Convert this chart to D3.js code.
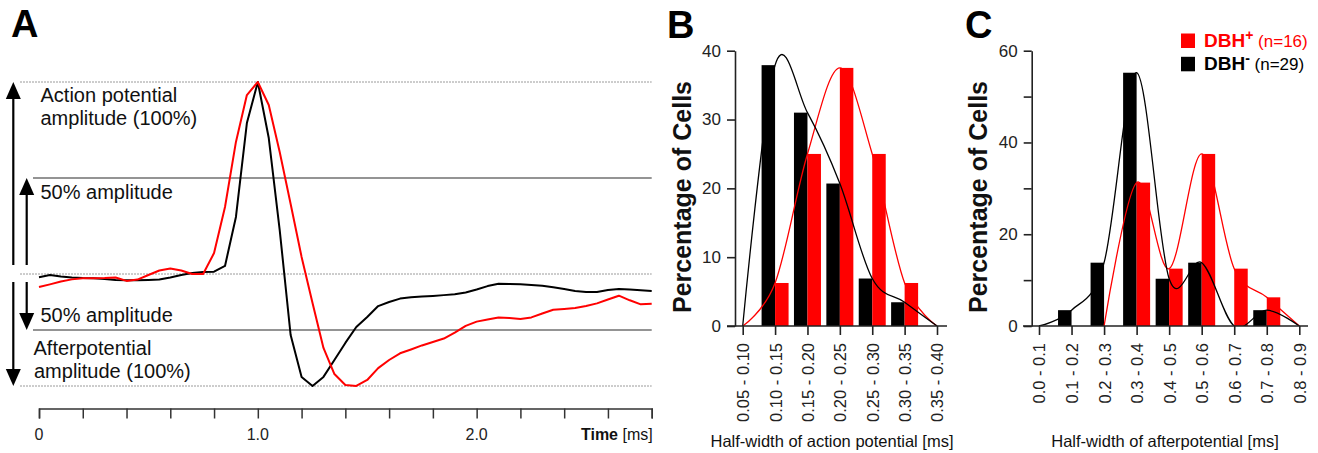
<!DOCTYPE html>
<html>
<head>
<meta charset="utf-8">
<script src="https://cdn.jsdelivr.net/npm/d3@7"></script>
<style>
  body { margin: 0; background: #fff; }
  svg { display: block; font-family: "Liberation Sans", Arial, sans-serif; }
</style>
</head>
<body>
<svg id="chart" width="1318" height="453"></svg>
<script>
// ---- data ----
// averaged spikes, sampled every 0.05 ms, in % of action potential amplitude
var sampleStep = 0.05;
var dbhPosTrace = [-6.8,-5.4,-3.9,-2.8,-2.2,-2.2,-2.1,-1.8,-3.6,-2.9,-0.5,1.8,2.9,1.8,0,0,
  10.9,34.9,68.8,93.2,100,88.0,63.5,36.5,8.9,-15.1,-38.5,-52.1,-57.8,-58.3,-55.2,
  -49.0,-44.8,-41.3,-39.3,-37.2,-35.4,-33.6,-30.5,-27.0,-24.8,-23.7,-22.6,-22.9,-23.4,-22.6,
  -20.6,-18.6,-18.2,-17.7,-16.7,-15.3,-13.3,-11.3,-13.7,-15.8,-15.5];
var dbhNegTrace = [-1.7,-0.5,-1.3,-1.8,-2.1,-2.2,-2.6,-3.1,-3.3,-3.3,-3.1,-2.9,-1.8,-0.5,0.5,1.0,1.2,
  4.2,29.7,78.6,100,70.8,22.9,-31.8,-53.6,-58.3,-53.6,-44.8,-35.9,-27.6,-22.4,
  -16.7,-14.6,-12.8,-12.1,-11.7,-11.4,-11.0,-10.6,-9.6,-8.1,-6.3,-5.1,-5.2,-5.4,-5.7,
  -6.1,-6.9,-7.8,-8.8,-9.4,-9.4,-8.3,-7.8,-8.1,-8.5,-8.9];
var refLevels = [100, 50, 0, -29.17, -58.33];   // AP 100%, AP 50%, baseline, AHP 50%, AHP 100%
var timeTicks = [0,0.2,0.4,0.6,0.8,1.0,1.2,1.4,1.6,1.8,2.0,2.2,2.4,2.6,2.8];
var timeLabelVals = [0, 1, 2];
var timeLabelText = ["0", "1.0", "2.0"];

var apBins = ["0.05 - 0.10","0.10 - 0.15","0.15 - 0.20","0.20 - 0.25","0.25 - 0.30","0.30 - 0.35","0.35 - 0.40"];
var apPos = [0, 6.25, 25, 37.5, 25, 6.25, 0];
var apNeg = [0, 37.9, 31.0, 20.7, 6.9, 3.45, 0];
var apTicks = [0, 10, 20, 30, 40];

var ahpBins = ["0.0 - 0.1","0.1 - 0.2","0.2 - 0.3","0.3 - 0.4","0.4 - 0.5","0.5 - 0.6","0.6 - 0.7","0.7 - 0.8","0.8 - 0.9"];
var ahpPos = [0, 0, 0, 31.25, 12.5, 37.5, 12.5, 6.25, 0];
var ahpNeg = [0, 3.45, 13.8, 55.2, 10.3, 13.8, 0, 3.45, 0];
var ahpPosFitStart = 2;   // red fit starts at the 0.2 - 0.3 bin
var ahpTicks = [0, 10, 20, 30, 40, 50, 60];

var legendNames = ["DBH", "DBH"];
var legendSup = ["+", "-"];
var legendN = [" (n=16)", " (n=29)"];

var RED = "#ff0000", BLACK = "#000";

var svg = d3.select("#chart");

// ================= panel A =================
var xA = d3.scaleLinear().domain([0, 2.8]).range([39, 651.7]);
var yA = d3.scaleLinear().domain([-58.33, 100]).range([386, 82]);

svg.append("text").attr("x", 11).attr("y", 37).attr("font-size", 38)
  .attr("font-weight", "bold").text("A");

var gA = svg.append("g");

gA.selectAll("line.ref").data(refLevels).enter().append("line")
  .attr("class", "ref")
  .attr("x1", function(d, i) { return i % 2 === 0 ? 20 : 33; })
  .attr("x2", xA(2.8))
  .attr("y1", function(d) { return yA(d); })
  .attr("y2", function(d) { return yA(d); })
  .attr("stroke", function(d, i) { return i % 2 === 0 ? "#9a9a9a" : "#707070"; })
  .attr("stroke-width", function(d, i) { return i % 2 === 0 ? 1 : 1.5; })
  .attr("stroke-dasharray", function(d, i) { return i % 2 === 0 ? "2,1" : null; });

// double headed amplitude arrows
function arrow(x, yFrom, yTip) {
  var dir = yTip < yFrom ? -1 : 1;
  var head = 17, half = 7.5;
  gA.append("line").attr("x1", x).attr("x2", x)
    .attr("y1", yFrom).attr("y2", yTip - dir * head + dir * 2)
    .attr("stroke", "#000").attr("stroke-width", 2.2);
  gA.append("path")
    .attr("d", "M" + x + "," + yTip + "L" + (x - half) + "," + (yTip - dir * head) +
      "L" + (x + half) + "," + (yTip - dir * head) + "Z")
    .attr("fill", "#000");
}
arrow(13.3, yA(0) - 9, yA(100));
arrow(26.7, yA(0) - 9, yA(50));
arrow(13.3, yA(0) + 8, yA(-58.33));
arrow(26.7, yA(0) + 8, yA(-29.17));

var aText = [
  {t: "Action potential", x: 40.5, y: 102},
  {t: "amplitude (100%)", x: 40.5, y: 125},
  {t: "50% amplitude", x: 40.5, y: 199},
  {t: "50% amplitude", x: 40.5, y: 322},
  {t: "Afterpotential", x: 33.5, y: 355},
  {t: "amplitude (100%)", x: 34, y: 378}
];
gA.selectAll("text.lab").data(aText).enter().append("text")
  .attr("class", "lab")
  .attr("x", function(d) { return d.x; })
  .attr("y", function(d) { return d.y; })
  .attr("font-size", 20).attr("fill", "#111")
  .text(function(d) { return d.t; });

var traceLine = d3.line()
  .x(function(d, i) { return xA(i * sampleStep); })
  .y(function(d) { return yA(d); });

gA.append("path").datum(dbhNegTrace).attr("d", traceLine)
  .attr("fill", "none").attr("stroke", BLACK).attr("stroke-width", 2)
  .attr("stroke-linejoin", "round");
gA.append("path").datum(dbhPosTrace).attr("d", traceLine)
  .attr("fill", "none").attr("stroke", RED).attr("stroke-width", 2)
  .attr("stroke-linejoin", "round");

// time axis
var axA = svg.append("g").attr("transform", "translate(0,408.5)");
axA.call(d3.axisBottom(xA).tickValues(timeTicks).tickSize(10).tickSizeOuter(10).tickFormat(""));
axA.select(".domain").attr("stroke", "#333").attr("stroke-width", 1.5);
axA.selectAll(".tick line").attr("stroke", "#333").attr("stroke-width", 1.5);
axA.selectAll("text.tl").data(timeLabelVals).enter().append("text")
  .attr("class", "tl")
  .attr("x", function(d) { return xA(d); }).attr("y", 31)
  .attr("text-anchor", "middle").attr("font-size", 16).attr("fill", "#222")
  .text(function(d, i) { return timeLabelText[i]; });
var tt = axA.append("text").attr("x", xA(2.8) + 1).attr("y", 31)
  .attr("text-anchor", "end").attr("font-size", 16).attr("fill", "#111");
tt.append("tspan").attr("font-weight", "bold").text("Time");
tt.append("tspan").text(" [ms]");

// ================= histograms =================
var barW = 13.5;
var histCurve = d3.curveCardinal.tension(0);

function histPanel(opt) {
  var x = d3.scalePoint().domain(opt.bins).range(opt.xRange);
  var y = d3.scaleLinear().domain([0, opt.yMax]).range([326, 50.7]);
  var g = svg.append("g");

  svg.append("text").attr("x", opt.letterX).attr("y", 38).attr("font-size", 38)
    .attr("font-weight", "bold").text(opt.letter);

  // bars
  g.selectAll("rect.neg").data(opt.neg).enter().append("rect")
    .attr("class", "neg")
    .attr("x", function(d, i) { return x(opt.bins[i]) - barW; })
    .attr("y", function(d) { return y(d); })
    .attr("width", barW)
    .attr("height", function(d) { return y(0) - y(d); })
    .attr("fill", BLACK);
  g.selectAll("rect.pos").data(opt.pos).enter().append("rect")
    .attr("class", "pos")
    .attr("x", function(d, i) { return x(opt.bins[i]); })
    .attr("y", function(d) { return y(d); })
    .attr("width", barW)
    .attr("height", function(d) { return y(0) - y(d); })
    .attr("fill", RED);

  // fitted curves, clipped at zero
  var clipId = "clip" + opt.letter;
  svg.append("clipPath").attr("id", clipId).append("rect")
    .attr("x", opt.axisX0).attr("y", 0).attr("width", opt.axisX1 - opt.axisX0).attr("height", y(0));
  var line = d3.line()
    .x(function(d) { return x(opt.bins[d[0]]); })
    .y(function(d) { return y(d[1]); })
    .curve(histCurve);
  var posPts = opt.pos.map(function(v, i) { return [i, v]; }).slice(opt.posStart);
  var negPts = opt.neg.map(function(v, i) { return [i, v]; });
  g.append("path").datum(posPts).attr("d", line).attr("clip-path", "url(#" + clipId + ")")
    .attr("fill", "none").attr("stroke", RED).attr("stroke-width", 1.3);
  g.append("path").datum(negPts).attr("d", line).attr("clip-path", "url(#" + clipId + ")")
    .attr("fill", "none").attr("stroke", BLACK).attr("stroke-width", 1.3);

  // y axis
  var gy = svg.append("g").attr("transform", "translate(" + opt.yAxisX + ",0)");
  gy.call(d3.axisLeft(y).tickValues(opt.ticks).tickSize(8).tickSizeOuter(0).tickPadding(6)
    .tickFormat(function(d) { return d % opt.labelEvery === 0 ? d : ""; }));
  gy.select(".domain").attr("stroke", "#222").attr("stroke-width", 1.6);
  gy.selectAll(".tick line").attr("stroke", "#222").attr("stroke-width", 1.6);
  gy.selectAll(".tick text").attr("font-size", 17).attr("fill", "#222")
    .attr("font-family", "Liberation Sans, Arial, sans-serif");

  // x axis
  var gx = svg.append("g").attr("transform", "translate(0," + y(0) + ")");
  gx.call(d3.axisBottom(x).tickSize(9).tickSizeOuter(0));
  gx.select(".domain").remove();
  gx.append("line").attr("x1", opt.axisX0).attr("x2", opt.axisX1)
    .attr("stroke", "#222").attr("stroke-width", 1.6);
  gx.selectAll(".tick line").attr("stroke", "#222").attr("stroke-width", 1.6);
  gx.selectAll(".tick text")
    .attr("transform", "rotate(-90)")
    .attr("x", -17).attr("y", 0).attr("dy", "0.36em")
    .attr("text-anchor", "end")
    .attr("font-size", 16.5).attr("fill", "#222")
    .attr("font-family", "Liberation Sans, Arial, sans-serif");

  svg.append("text").attr("x", opt.titleX).attr("y", 447)
    .attr("text-anchor", "middle").attr("font-size", 16.5).attr("fill", "#111")
    .text(opt.title);
  svg.append("text")
    .attr("transform", "translate(" + opt.yTitleX + ",197) rotate(-90)")
    .attr("text-anchor", "middle").attr("font-size", 25).attr("font-weight", "bold")
    .attr("fill", "#111").text("Percentage of Cells");
}

histPanel({
  letter: "B", letterX: 667,
  bins: apBins, pos: apPos, neg: apNeg, posStart: 0,
  xRange: [742.7, 937], yMax: 40, ticks: apTicks, labelEvery: 10,
  yAxisX: 735, axisX0: 727, axisX1: 947,
  title: "Half-width of action potential [ms]", titleX: 832, yTitleX: 691
});

histPanel({
  letter: "C", letterX: 965,
  bins: ahpBins, pos: ahpPos, neg: ahpNeg, posStart: ahpPosFitStart,
  xRange: [1039, 1299.3], yMax: 60, ticks: ahpTicks, labelEvery: 20,
  yAxisX: 1031.7, axisX0: 1023, axisX1: 1308,
  title: "Half-width of afterpotential [ms]", titleX: 1165, yTitleX: 986.7
});

// legend
var legColors = [RED, BLACK];
var leg = svg.append("g");
legendNames.forEach(function(name, i) {
  var y0 = 33.5 + i * 23.3;
  leg.append("rect").attr("x", 1181).attr("y", y0).attr("width", 14).attr("height", 14.5)
    .attr("fill", legColors[i]);
  var t = leg.append("text").attr("x", 1204).attr("y", y0 + 13.5)
    .attr("fill", legColors[i]).attr("font-size", 17);
  t.append("tspan").attr("font-weight", "bold").attr("font-size", 19).text(name);
  t.append("tspan").attr("font-weight", "bold").attr("font-size", 14).attr("dy", -7).text(legendSup[i]);
  t.append("tspan").attr("dy", 7).text(legendN[i]);
});
</script>
</body>
</html>
